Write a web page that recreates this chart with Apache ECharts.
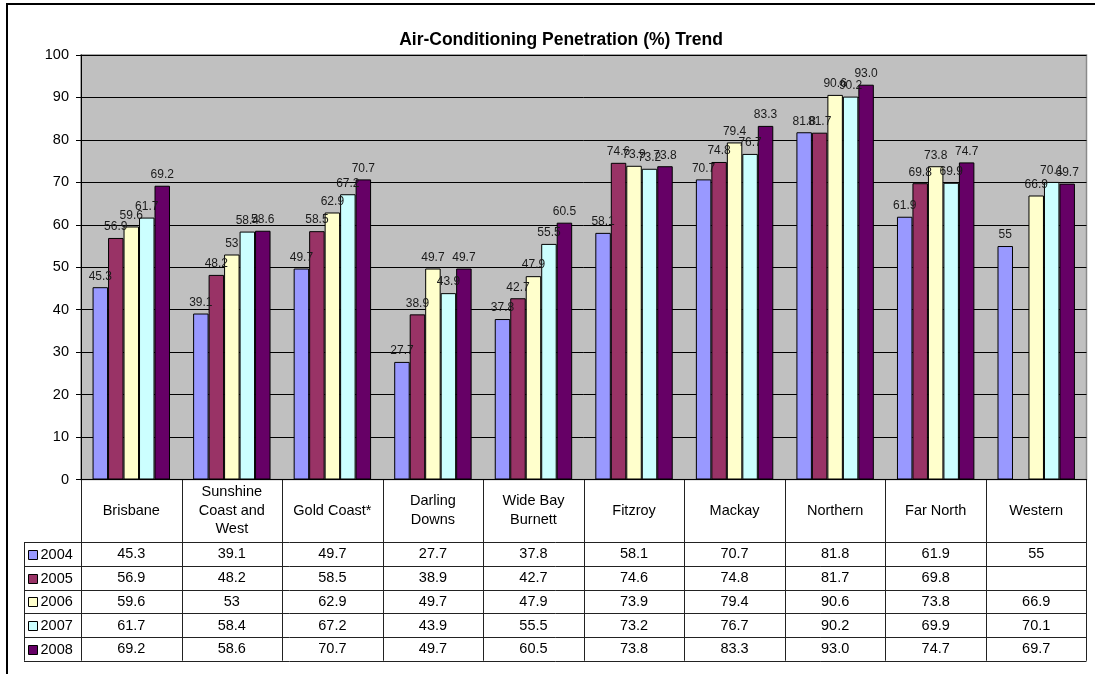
<!DOCTYPE html>
<html>
<head>
<meta charset="utf-8">
<title>Air-Conditioning Penetration (%) Trend</title>
<script src="https://cdn.jsdelivr.net/npm/echarts@6/dist/echarts.min.js"></script>
<style>
  html, body { margin: 0; padding: 0; background: #fff; }
  #chart { width: 1095px; height: 674px; }
</style>
</head>
<body>
<div id="chart"></div>
<script>
// Regions shown along the category axis (header row of the data table)
const categories = ['Brisbane', 'Sunshine\nCoast and\nWest', 'Gold Coast*', 'Darling\nDowns',
  'Wide Bay\nBurnett', 'Fitzroy', 'Mackay', 'Northern', 'Far North', 'Western'];

// Survey years, one series each
const years = ['2004', '2005', '2006', '2007', '2008'];

// Penetration values (%) as published; empty string = no figure
const v2004 = ['45.3', '39.1', '49.7', '27.7', '37.8', '58.1', '70.7', '81.8', '61.9', '55'];
const v2005 = ['56.9', '48.2', '58.5', '38.9', '42.7', '74.6', '74.8', '81.7', '69.8', ''];
const v2006 = ['59.6', '53', '62.9', '49.7', '47.9', '73.9', '79.4', '90.6', '73.8', '66.9'];
const v2007 = ['61.7', '58.4', '67.2', '43.9', '55.5', '73.2', '76.7', '90.2', '69.9', '70.1'];
const v2008 = ['69.2', '58.6', '70.7', '49.7', '60.5', '73.8', '83.3', '93.0', '74.7', '69.7'];

// Value axis range
const yMin = 0;
const yMax = 100;
const yStep = 10;

const seriesValues = [v2004, v2005, v2006, v2007, v2008];
const seriesColors = ['#9999FF', '#993366', '#FFFFCC', '#CCFFFF', '#660066'];

const FONT = '"Liberation Sans", Arial, sans-serif';

const chart = echarts.init(document.getElementById('chart'), null, { renderer: 'canvas' });

const series = years.map((yr, si) => ({
  name: yr,
  type: 'bar',
  barGap: '0%',
  barCategoryGap: '23%',
  data: seriesValues[si].map(s => (s === '' ? '-' : Number(s))),
  itemStyle: { color: seriesColors[si], borderColor: '#000', borderWidth: 1 },
  label: {
    show: true,
    position: 'top',
    distance: 5,
    fontFamily: FONT,
    fontSize: 12,
    color: '#1a1a1a',
    formatter: p => seriesValues[si][p.dataIndex]
  },
  emphasis: { disabled: true },
  animation: false
}));

const option = {
  animation: false,
  backgroundColor: '#fff',
  title: {
    text: 'Air-Conditioning Penetration (%) Trend',
    left: 556,
    textAlign: 'center',
    top: 26,
    textStyle: { fontFamily: FONT, fontSize: 17.5, fontWeight: 'bold', color: '#000' }
  },
  grid: { left: 81, top: 55, right: 8.5, bottom: 194.5, show: true,
          backgroundColor: '#C0C0C0', borderColor: '#8a8a8a', borderWidth: 1.5 },
  xAxis: {
    type: 'category',
    data: categories,
    axisLine: { show: true, lineStyle: { color: '#000', width: 1 } },
    axisTick: { show: false },
    axisLabel: {
      interval: 0,
      margin: 31,
      verticalAlign: 'middle',
      lineHeight: 18.5,
      fontFamily: FONT,
      fontSize: 14.5,
      color: '#000'
    },
    splitLine: { show: false }
  },
  yAxis: {
    type: 'value',
    min: yMin,
    max: yMax,
    interval: yStep,
    axisLine: { show: true, lineStyle: { color: '#000', width: 1 } },
    axisTick: { show: true, length: 5, lineStyle: { color: '#000' } },
    axisLabel: { margin: 12, fontFamily: FONT, fontSize: 14.5, color: '#000' },
    splitLine: { show: true, lineStyle: { color: '#000', width: 1 } }
  },
  series: series
};

chart.setOption(option);

// Data table under the plot, laid out on the category axis positions
function buildTable() {
  const g = [];
  const c0 = chart.convertToPixel({ xAxisIndex: 0 }, 0);
  const c1 = chart.convertToPixel({ xAxisIndex: 0 }, 1);
  const colW = c1 - c0;
  const left = c0 - colW / 2;
  const right = left + colW * categories.length;
  const top = chart.convertToPixel({ yAxisIndex: 0 }, yMin);
  const headerH = 62.5;
  const rowH = 23.75;
  const legendLeft = 24;
  const rowsTop = top + headerH;
  const bottom = rowsTop + rowH * years.length;
  const lineStyle = { stroke: '#222', lineWidth: 1 };

  // outer frame of the chart area
  g.push({ type: 'line', shape: { x1: 6, y1: 4, x2: 1095, y2: 4 }, style: { stroke: '#000', lineWidth: 2 }, silent: true });
  g.push({ type: 'line', shape: { x1: 7, y1: 3, x2: 7, y2: 674 }, style: { stroke: '#000', lineWidth: 2 }, silent: true });

  // vertical column separators
  for (let i = 0; i <= categories.length; i++) {
    const x = Math.round(left + colW * i) + 0.5;
    g.push({ type: 'line', shape: { x1: x, y1: top, x2: x, y2: bottom }, style: lineStyle, silent: true });
  }
  // legend column left edge
  g.push({ type: 'line', shape: { x1: legendLeft + 0.5, y1: rowsTop, x2: legendLeft + 0.5, y2: bottom }, style: lineStyle, silent: true });

  // horizontal row separators
  for (let r = 0; r <= years.length; r++) {
    const y = Math.round(rowsTop + rowH * r) + 0.5;
    g.push({ type: 'line', shape: { x1: legendLeft, y1: y, x2: right, y2: y }, style: lineStyle, silent: true });
  }

  // legend keys and cell values
  years.forEach((yr, si) => {
    const cy = rowsTop + rowH * si + rowH / 2;
    g.push({ type: 'rect', shape: { x: 28.5, y: Math.round(cy - 4) + 0.5, width: 9, height: 9 },
             style: { fill: seriesColors[si], stroke: '#000', lineWidth: 1 }, silent: true });
    g.push({ type: 'text', x: 40.5, y: cy + 1,
             style: { text: yr, fontFamily: FONT, fontSize: 14.5, fill: '#000', verticalAlign: 'middle', align: 'left' },
             silent: true });
    seriesValues[si].forEach((s, ci) => {
      const cx = chart.convertToPixel({ xAxisIndex: 0 }, ci);
      g.push({ type: 'text', x: cx, y: cy + 0.5,
               style: { text: s, fontFamily: FONT, fontSize: 14.5, fill: '#000', align: 'center', verticalAlign: 'middle' },
               silent: true });
    });
  });

  chart.setOption({ graphic: g });
}

buildTable();
</script>
</body>
</html>
